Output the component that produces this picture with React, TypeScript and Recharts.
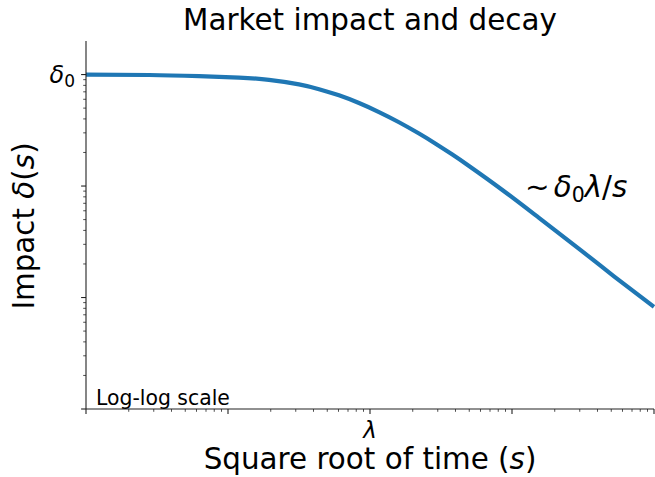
import React from "react";
import { LineChart, Line, XAxis, YAxis } from "recharts";

// square root of time s (in units where lambda = 1)
const sValues = [
  0.01, 0.0278, 0.0625, 0.1195, 0.1943, 0.3162, 0.4374, 0.6048, 0.8367,
  1.157, 1.6, 2.214, 2.916, 3.779, 4.981, 8.505, 15.49, 30.61, 52.26, 100,
];
// impact delta(s) / delta0
const impactValues = [
  0.999, 0.991, 0.9667, 0.9391, 0.8965, 0.8168, 0.7398, 0.6509, 0.5551,
  0.461, 0.3735, 0.2957, 0.2386, 0.1926, 0.1514, 0.0927, 0.0518, 0.0265,
  0.0155, 0.00824,
];

const xMajorTicks = [0.01, 0.1, 1, 10, 100];
const xMinorTicks = [
  0.02, 0.03, 0.04, 0.05, 0.06, 0.07, 0.08, 0.09,
  0.2, 0.3, 0.4, 0.5, 0.6, 0.7, 0.8, 0.9,
  2, 3, 4, 5, 6, 7, 8, 9,
  20, 30, 40, 50, 60, 70, 80, 90,
];
const yMajorTicks = [0.001, 0.01, 0.1, 1];
const yMinorTicks = [
  0.002, 0.003, 0.004, 0.005, 0.006, 0.007, 0.008, 0.009,
  0.02, 0.03, 0.04, 0.05, 0.06, 0.07, 0.08, 0.09,
  0.2, 0.3, 0.4, 0.5, 0.6, 0.7, 0.8, 0.9,
];

const data = sValues.map((s, i) => ({ s, impact: impactValues[i] }));

const W = 655;
const H = 477;
const FONT = "DejaVu Sans";
const INK = "#222";
const BLUE = "#1f77b4";

const isMajor = (list: number[], v: number) =>
  list.some((m) => Math.abs(m - v) / m < 1e-6);

function XTick({ x, y, payload }: any) {
  const major = isMajor(xMajorTicks, payload.value);
  return (
    <g>
      <line
        x1={x}
        x2={x}
        y1={y}
        y2={y + (major ? 4.9 : 2.8)}
        stroke={INK}
        strokeWidth={major ? 1.1 : 0.8}
      />
      {Math.abs(payload.value - 1) < 1e-9 && (
        <text
          x={x}
          y={y + 29}
          textAnchor="middle"
          fontFamily={FONT}
          fontStyle="italic"
          fontSize={23}
          fill="#000"
        >
          λ
        </text>
      )}
    </g>
  );
}

function YTick({ x, y, payload }: any) {
  const major = isMajor(yMajorTicks, payload.value);
  return (
    <g>
      <line
        x1={x - (major ? 4.9 : 2.8)}
        x2={x}
        y1={y}
        y2={y}
        stroke={INK}
        strokeWidth={major ? 1.1 : 0.8}
      />
      {Math.abs(payload.value - 1) < 1e-9 && (
        <text x={x - 11} y={y + 8} textAnchor="end" fontFamily={FONT} fontSize={24} fill="#000">
          <tspan fontStyle="italic">δ</tspan>
          <tspan fontSize={17} dy={4}>0</tspan>
        </text>
      )}
    </g>
  );
}

export default function App() {
  return (
    <div style={{ position: "absolute", left: 0, top: 0, width: W, height: H, background: "#fff" }}>
      <LineChart
        width={W}
        height={H}
        data={data}
        margin={{ top: 41, right: 1, left: 0, bottom: 0 }}
      >
        <XAxis
          dataKey="s"
          type="number"
          scale="log"
          domain={[0.01, 100]}
          ticks={[...xMajorTicks, ...xMinorTicks]}
          interval={0}
          tick={<XTick />}
          tickLine={false}
          tickSize={0}
          tickMargin={0}
          height={68}
          axisLine={{ stroke: INK, strokeWidth: 1.1 }}
        />
        <XAxis
          xAxisId="top"
          orientation="top"
          type="number"
          scale="log"
          domain={[0.01, 100]}
          tick={false}
          tickLine={false}
          height={0}
          axisLine={{ stroke: INK, strokeWidth: 1.1 }}
        />
        <YAxis
          type="number"
          scale="log"
          domain={[0.001, 2]}
          ticks={[...yMajorTicks, ...yMinorTicks]}
          interval={0}
          tick={<YTick />}
          tickLine={false}
          tickSize={0}
          tickMargin={0}
          width={86}
          axisLine={{ stroke: INK, strokeWidth: 1.1 }}
        />
        <YAxis
          yAxisId="right"
          orientation="right"
          type="number"
          scale="log"
          domain={[0.001, 2]}
          tick={false}
          tickLine={false}
          width={0}
          axisLine={{ stroke: INK, strokeWidth: 1.1 }}
        />
        <Line
          dataKey="impact"
          type="natural"
          stroke={BLUE}
          strokeWidth={4.2}
          dot={false}
          isAnimationActive={false}
        />
      </LineChart>
      <svg
        width={W}
        height={H}
        style={{ position: "absolute", left: 0, top: 0, pointerEvents: "none" }}
        fontFamily={FONT}
      >
        <text x={370} y={30} textAnchor="middle" fontSize={29.4} fill="#000">
          Market impact and decay
        </text>
        <text x={370} y={469} textAnchor="middle" fontSize={29.4} fill="#000">
          Square root of time (<tspan fontStyle="italic">s</tspan>)
        </text>
        <text
          x={34}
          y={226}
          textAnchor="middle"
          fontSize={29.4}
          fill="#000"
          transform="rotate(-90 34 226)"
        >
          Impact <tspan fontStyle="italic">δ</tspan>(<tspan fontStyle="italic">s</tspan>)
        </text>
        <text x={96} y={405} fontSize={20.4} fill="#000">
          Log-log scale
        </text>
        <text x={525} y={197} fontSize={29.4} fill="#000">
          ∼<tspan dx={4} fontStyle="italic">δ</tspan>
          <tspan fontSize={20.5} dy={5}>0</tspan>
          <tspan dy={-5} fontStyle="italic">λ</tspan>/<tspan fontStyle="italic">s</tspan>
        </text>
      </svg>
    </div>
  );
}
